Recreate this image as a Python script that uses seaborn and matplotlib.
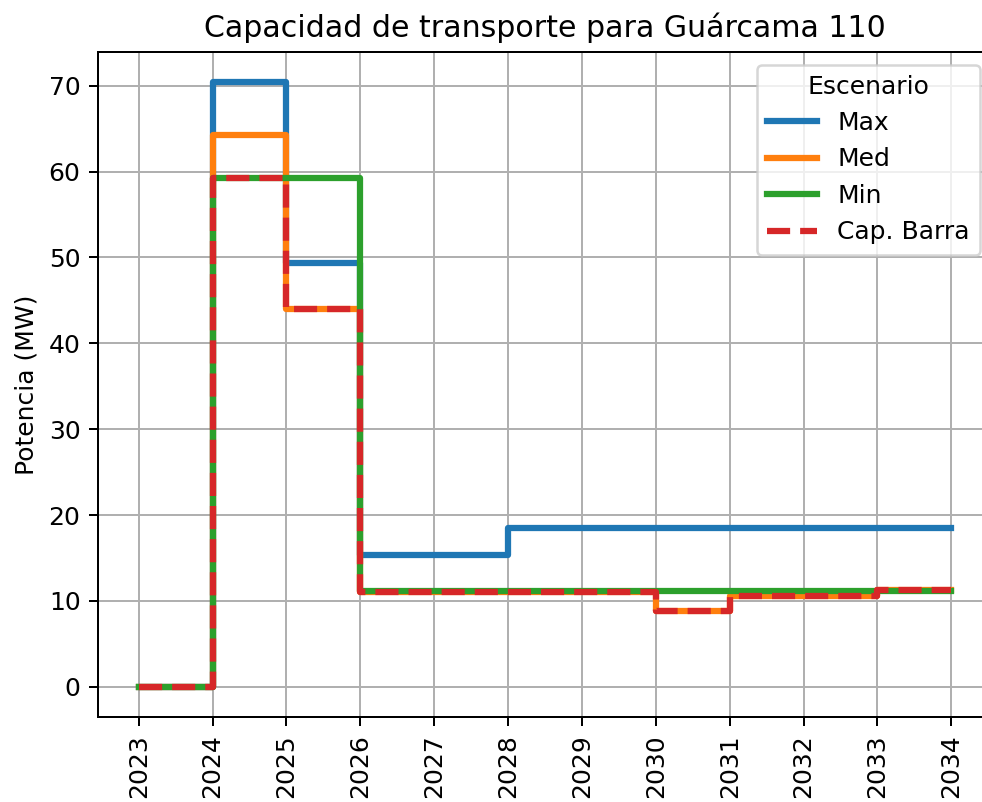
import seaborn as sns
import pandas as pd
import matplotlib
matplotlib.use("Agg")
import matplotlib.pyplot as plt

years = [2023, 2024, 2025, 2026, 2027, 2028, 2029, 2030, 2031, 2032, 2033, 2034]
escenarios = ["Max", "Med", "Min", "Cap. Barra"]

cap_max = [0, 70.4, 49.4, 15.3, 15.3, 18.5, 18.5, 18.5, 18.5, 18.5, 18.5, 18.5]
cap_med = [0, 64.2, 44.0, 11.0, 11.0, 11.0, 11.0, 8.8, 10.6, 10.6, 11.3, 11.3]
cap_min = [0, 59.3, 59.3, 11.1, 11.1, 11.1, 11.1, 11.1, 11.1, 11.1, 11.1, 11.1]
cap_barra = [0, 59.3, 44.0, 11.0, 11.0, 11.0, 11.0, 8.8, 10.6, 10.6, 11.3, 11.3]

frames = []
for name, vals in zip(escenarios, [cap_max, cap_med, cap_min, cap_barra]):
    frames.append(pd.DataFrame({"Año": years, "Potencia": vals, "Escenario": name}))
data = pd.concat(frames, ignore_index=True)

plt.rcParams["font.family"] = ["DejaVu Sans"]
fig, ax = plt.subplots(figsize=(982 / 180, 802 / 180), dpi=180)

palette = {"Max": "#1f77b4", "Med": "#ff7f0e", "Min": "#2ca02c", "Cap. Barra": "#d62728"}
dashes = {"Max": "", "Med": "", "Min": "", "Cap. Barra": (3.7, 1.6)}

sns.lineplot(data=data, x="Año", y="Potencia", hue="Escenario", style="Escenario",
             hue_order=escenarios, style_order=escenarios, palette=palette,
             dashes=dashes, drawstyle="steps-post", linewidth=2.5, ax=ax)

ax.set_title("Capacidad de transporte para Guárcama 110")
ax.set_ylabel("Potencia (MW)")
ax.set_xlabel("")
ax.set_xticks(years)
ax.set_xticklabels([str(y) for y in years], rotation=90)
ax.grid(True, color="#b0b0b0", linewidth=0.8)
ax.set_axisbelow(True)
ax.legend(title="Escenario", loc="upper right")

# the original image is cropped on the right, past the right spine
fig.subplots_adjust(left=98 / 982, right=992 / 982, top=1 - 52 / 802, bottom=1 - 717 / 802)
fig.savefig("out.png")
